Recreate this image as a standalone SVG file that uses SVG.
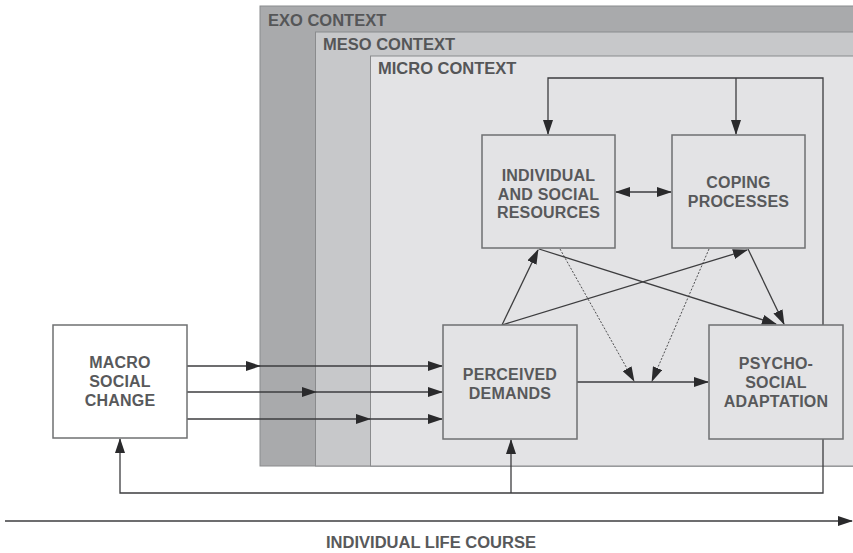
<svg xmlns="http://www.w3.org/2000/svg" width="853" height="553" viewBox="0 0 853 553">
<style>
.ctx{stroke:#8a8b8d;stroke-width:1}
.lbl{font-family:"Liberation Sans",Arial,sans-serif;font-weight:bold;font-size:16.5px;fill:#555658}
.box{stroke:#6f7072;stroke-width:1.5}
.t{font-family:"Liberation Sans",Arial,sans-serif;font-weight:bold;font-size:16px;fill:#58595b;text-anchor:middle;letter-spacing:0.2px}
.c{fill:none;stroke:#3d3d3f;stroke-width:1.3}
.d{fill:none;stroke:#3d3d3f;stroke-width:0.9;stroke-dasharray:2 1.6}
</style>
<defs>
<marker id="ah" markerUnits="userSpaceOnUse" markerWidth="15" markerHeight="10" refX="14" refY="5" orient="auto-start-reverse" viewBox="0 0 15 10">
<path d="M0,0 L15,5 L0,10 Z" fill="#2a2a2c"/>
</marker>
</defs>
<rect width="853" height="553" fill="#ffffff"/>
<g id="contexts">
<rect class="ctx" x="260" y="6" width="600" height="460" fill="#a9aaac"/>
<rect class="ctx" x="315.5" y="32" width="545" height="434" fill="#c7c8ca"/>
<rect class="ctx" x="370.5" y="56" width="490" height="410" fill="#e3e3e5"/>
<text class="lbl" x="268" y="26">EXO CONTEXT</text>
<text class="lbl" x="323" y="50">MESO CONTEXT</text>
<text class="lbl" x="378" y="74">MICRO CONTEXT</text>
</g>
<g id="connectors">
<polyline class="c" points="548,134 548,78 823,78 823,493 120,493 120,439" marker-start="url(#ah)" marker-end="url(#ah)"/>
<line class="c" x1="736" y1="78" x2="736" y2="134" marker-end="url(#ah)"/>
<line class="c" x1="511" y1="493" x2="511" y2="440" marker-end="url(#ah)"/>
<line class="c" x1="616" y1="192" x2="671" y2="192" marker-start="url(#ah)" marker-end="url(#ah)"/>
<line class="c" x1="187" y1="366" x2="260" y2="366" marker-end="url(#ah)"/>
<line class="c" x1="258" y1="366" x2="442" y2="366" marker-end="url(#ah)"/>
<line class="c" x1="187" y1="392" x2="316" y2="392" marker-end="url(#ah)"/>
<line class="c" x1="314" y1="392" x2="442" y2="392" marker-end="url(#ah)"/>
<line class="c" x1="187" y1="419" x2="370" y2="419" marker-end="url(#ah)"/>
<line class="c" x1="368" y1="419" x2="442" y2="419" marker-end="url(#ah)"/>
<line class="c" x1="577" y1="382" x2="708" y2="382" marker-end="url(#ah)"/>
<line class="d" x1="560" y1="249" x2="634" y2="381" marker-end="url(#ah)"/>
<line class="d" x1="709" y1="249" x2="652" y2="381" marker-end="url(#ah)"/>
<line class="c" x1="502" y1="325" x2="538" y2="250" marker-end="url(#ah)"/>
<line class="c" x1="502" y1="325" x2="747" y2="250" marker-end="url(#ah)"/>
<line class="c" x1="539" y1="249" x2="776" y2="324" marker-end="url(#ah)"/>
<line class="c" x1="748" y1="249" x2="784" y2="324" marker-end="url(#ah)"/>
<line class="c" x1="5" y1="521" x2="852" y2="521" marker-end="url(#ah)"/>
</g>
<g id="macro">
<rect class="box" x="53" y="325" width="134" height="113" fill="#ffffff"/>
<text class="t" x="120" y="368">MACRO</text>
<text class="t" x="120" y="387">SOCIAL</text>
<text class="t" x="120" y="406">CHANGE</text>
</g>
<g id="resources">
<rect class="box" x="482" y="135" width="133" height="113" fill="#e3e3e5"/>
<text class="t" x="548.5" y="181">INDIVIDUAL</text>
<text class="t" x="548.5" y="199.5">AND SOCIAL</text>
<text class="t" x="548.5" y="218">RESOURCES</text>
</g>
<g id="coping">
<rect class="box" x="672" y="135" width="133" height="113" fill="#e3e3e5"/>
<text class="t" x="738.5" y="188">COPING</text>
<text class="t" x="738.5" y="207">PROCESSES</text>
</g>
<g id="demands">
<rect class="box" x="443" y="325" width="134" height="114" fill="#e3e3e5"/>
<text class="t" x="510" y="380">PERCEIVED</text>
<text class="t" x="510" y="398.5">DEMANDS</text>
</g>
<g id="adaptation">
<rect class="box" x="709" y="325" width="134" height="114" fill="#e3e3e5"/>
<text class="t" x="776" y="369">PSYCHO-</text>
<text class="t" x="776" y="388">SOCIAL</text>
<text class="t" x="776" y="407">ADAPTATION</text>
</g>
<g id="lifecourse">
<text class="t" x="431" y="548" textLength="210" lengthAdjust="spacingAndGlyphs" style="letter-spacing:0">INDIVIDUAL LIFE COURSE</text>
</g>
</svg>
